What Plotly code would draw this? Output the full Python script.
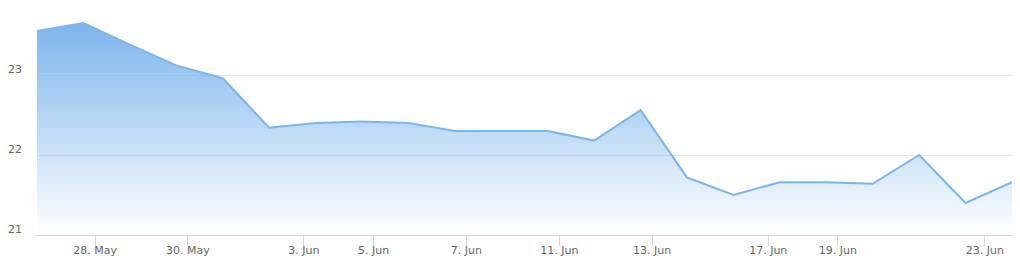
import datetime as dt
import plotly.graph_objects as go

# ---- data ----
DATES = ["2019-05-24", "2019-05-27", "2019-05-28", "2019-05-29", "2019-05-30", "2019-05-31",
         "2019-06-03", "2019-06-04", "2019-06-05", "2019-06-06", "2019-06-07",
         "2019-06-10", "2019-06-11", "2019-06-12", "2019-06-13", "2019-06-14",
         "2019-06-17", "2019-06-18", "2019-06-19", "2019-06-20", "2019-06-21",
         "2019-06-24"]
VALUES = [23.55, 23.65, 23.38, 23.12, 22.96, 22.34,
          22.40, 22.42, 22.40, 22.30, 22.30,
          22.30, 22.18, 22.56, 21.72, 21.50,
          21.66, 21.66, 21.64, 22.00, 21.40,
          21.66]
TICK_DATES = ["2019-05-28", "2019-05-30", "2019-06-03", "2019-06-05", "2019-06-07",
              "2019-06-11", "2019-06-13", "2019-06-17", "2019-06-19", "2019-06-23"]
Y_TICKS = [21, 22, 23]
Y_MIN = 21
Y_MAX = 23.8125
POINT_HOUR = 18  # time of day of each data point

# ---- ordinal axis (trading days evenly spaced) ----
pt_times = [dt.datetime.fromisoformat(d) + dt.timedelta(hours=POINT_HOUR) for d in DATES]
idx = list(range(len(pt_times)))


def ordinal_pos(t):
    for i in range(len(pt_times) - 1):
        a, b = pt_times[i], pt_times[i + 1]
        if a <= t <= b:
            return i + (t - a) / (b - a)
    return None


tick_vals, tick_text = [], []
for d in TICK_DATES:
    t = dt.datetime.fromisoformat(d)
    p = ordinal_pos(t)
    if p is not None:
        tick_vals.append(p)
        tick_text.append(f"{t.day}. {t.strftime('%b')}")

FONT = "DejaVu Sans"
BLUE = "#7cb5ec"

fig = go.Figure()
fig.add_trace(go.Scatter(x=idx, y=[Y_MIN] * len(idx), mode="lines",
                         line=dict(width=0), hoverinfo="skip", showlegend=False))
fig.add_trace(go.Scatter(
    x=idx, y=VALUES, mode="lines", fill="tonexty",
    line=dict(color=BLUE, width=2),
    fillgradient=dict(type="vertical",
                      colorscale=[[0, "rgba(124,181,236,0)"], [1, "rgba(124,181,236,1)"]]),
    showlegend=False))

fig.update_layout(
    width=1020, height=264,
    margin=dict(l=37, r=8, t=10, b=29),
    paper_bgcolor="white", plot_bgcolor="white",
    font=dict(family=FONT, size=11, color="#666666"),
    xaxis=dict(range=[0, len(idx) - 1], tickvals=tick_vals, ticktext=tick_text,
               automargin=False,
               showgrid=False, zeroline=False, showline=True, linecolor="#ccd6eb", linewidth=1,
               ticks="outside", ticklen=10, tickcolor="#ccd6eb", tickwidth=1,
               ticklabelstandoff=-5,
               tickfont=dict(family=FONT, size=11, color="#666666")),
    yaxis=dict(range=[Y_MIN, Y_MAX], tickvals=Y_TICKS, showgrid=True, gridcolor="#e6e6e6",
               automargin=False,
               gridwidth=1, zeroline=False, showline=False, ticks="",
               ticklabelshift=-6, ticklabelstandoff=14,
               tickfont=dict(family=FONT, size=11, color="#666666")),
)

fig.write_html("out.html")
